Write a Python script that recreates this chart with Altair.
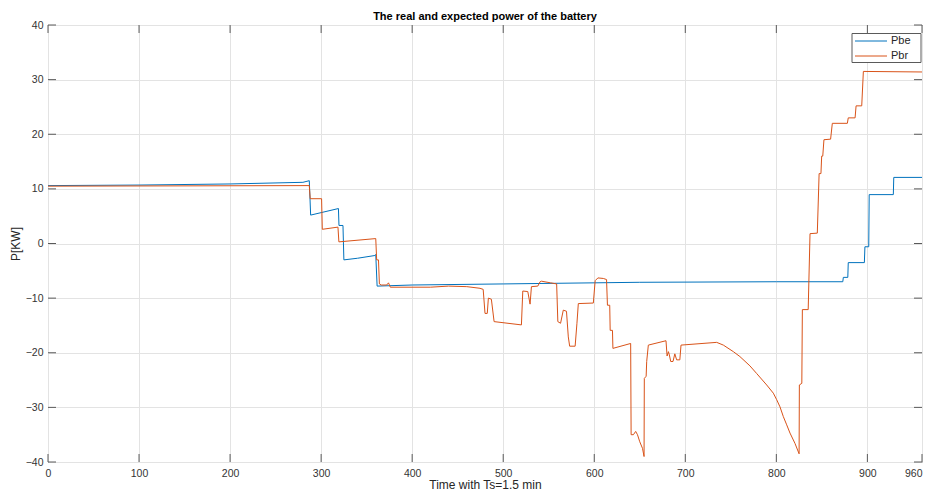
import altair as alt
import pandas as pd

# ---- data ----
pbe_t = [0, 100, 200, 280, 287, 288.5, 319, 319.6, 324, 325, 340, 359, 360, 361.5,
         400, 500, 650, 800, 873, 873.6, 878.5, 879, 896.7, 897.3, 901.5, 902,
         928.5, 929, 960]
pbe_p = [10.6, 10.7, 10.9, 11.2, 11.5, 5.2, 6.4, 3.3, 3.3, -3.0, -2.7, -2.2, -2.0, -7.8,
         -7.6, -7.4, -7.1, -7.0, -7.0, -6.2, -6.2, -3.5, -3.5, -0.6, -0.6, 8.95,
         8.95, 12.1, 12.1]

pbr_t = [0, 287, 288, 300.5, 301.3, 318.5, 319.5, 360, 361, 363, 364, 366, 372, 374, 376,
         420, 440, 460, 474.5, 478, 480, 482.5, 483.7, 487, 490, 520, 521.5, 527, 529.5,
         531, 538, 540.5, 542, 552, 558.7, 560, 563, 566, 569.5, 571.5, 573, 579, 581,
         582.5, 599, 601, 604, 610, 613.5, 614.5, 617, 617.5, 620, 620.5, 640, 640.5,
         643, 645.5, 647.5, 650, 653, 654.7, 655, 657, 657.6, 659.4, 678.8, 680, 681.5,
         682.5, 684, 686.5, 688.5, 690.5, 694, 695.3, 734.5, 741.8, 752.8, 760, 771,
         778.4, 789.4, 796.7, 800.4, 804, 807.7, 811.4, 815, 820.5, 825, 825.3, 828,
         828.6, 835, 837, 845, 847, 849, 849.8, 851, 852.3, 859.6, 861.5, 878, 879,
         886.5, 887.6, 893.8, 895.6, 960]
pbr_p = [10.5, 10.6, 8.2, 8.2, 2.6, 3.0, 0.3, 0.9, -3.0, -3.0, -7.4, -7.6, -7.6, -7.2, -8.0,
         -8.0, -7.8, -7.9, -8.2, -8.4, -12.8, -12.8, -10.0, -10.2, -14.3, -14.9, -8.7, -8.8,
         -11.1, -7.9, -7.8, -7.0, -6.9, -7.2, -7.4, -14.3, -14.6, -12.2, -12.4, -17.1,
         -18.8, -18.8, -14.6, -11.0, -10.9, -6.8, -6.3, -6.4, -6.6, -11.3, -11.3, -15.9,
         -15.9, -19.2, -18.3, -35.0, -35.0, -34.4, -35.0, -36.3, -37.5, -39.0, -24.7,
         -24.3, -21.6, -18.6, -17.8, -20.6, -19.8, -20.4, -21.6, -21.6, -20.2, -21.3,
         -21.3, -18.6, -18.1, -18.6, -19.8, -20.7, -22.4, -23.8, -25.9, -27.4, -28.6,
         -29.9, -31.7, -33.2, -34.7, -36.6, -38.5, -25.9, -25.6, -12.1, -12.1, 1.8, 1.9,
         12.8, 12.8, 16.0, 16.0, 19.0, 19.1, 22.0, 22.0, 23.0, 23.0, 25.2, 25.2, 31.5, 31.4]

series = ["Pbe", "Pbr"]
colors = ["#0072BD", "#D95319"]
x_ticks = [0, 100, 200, 300, 400, 500, 600, 700, 800, 900, 960]
y_ticks = [-40, -30, -20, -10, 0, 10, 20, 30, 40]

W, H = 874, 437
FRAME = "#5a5a5a"
FONT = "Liberation Sans"

xs = alt.Scale(domain=[0, 960], nice=False, zero=False)
ys = alt.Scale(domain=[-40, 40], nice=False, zero=False)
cs = alt.Scale(domain=series, range=colors)


def x_axis():
    return alt.Axis(values=x_ticks, title="Time with Ts=1.5 min", grid=True, ticks=False,
                    tickSize=0, domain=False, labelPadding=6, titleY=26,
                    titleBaseline="alphabetic", labelFlush=False,
                    labelAlign=alt.condition("datum.value >= 960", alt.value("right"),
                                             alt.value("center")))


def y_axis():
    return alt.Axis(values=y_ticks, title="P[KW]", grid=True, ticks=False, tickSize=0,
                    domain=False, labelPadding=5, titlePadding=3)


layers = []
for name, ts, ps in [("Pbe", pbe_t, pbe_p), ("Pbr", pbr_t, pbr_p)]:
    df = pd.DataFrame({"t": ts, "p": ps, "series": name, "i": range(len(ts))})
    layers.append(
        alt.Chart(df).mark_line(strokeWidth=1, clip=True).encode(
            x=alt.X("t:Q", scale=xs, axis=x_axis()),
            y=alt.Y("p:Q", scale=ys, axis=y_axis()),
            color=alt.Color("series:N", scale=cs, legend=None),
            order=alt.Order("i:Q"),
        )
    )

# inside tick marks (MATLAB style)
xt = pd.DataFrame({"t": x_ticks})
yt = pd.DataFrame({"p": y_ticks})
tick_len = 8
for y0, y1 in [(H, H - tick_len), (0, tick_len)]:
    layers.append(alt.Chart(xt).mark_rule(color=FRAME, strokeWidth=1).encode(
        x=alt.X("t:Q", scale=xs), y=alt.value(y0), y2=alt.value(y1)))
for x0, x1 in [(0, tick_len), (W, W - tick_len)]:
    layers.append(alt.Chart(yt).mark_rule(color=FRAME, strokeWidth=1).encode(
        y=alt.Y("p:Q", scale=ys), x=alt.value(x0), x2=alt.value(x1)))

# legend box
box = pd.DataFrame({"k": [0]})
layers.append(alt.Chart(box).mark_rect(fill="white", stroke=FRAME, strokeWidth=1).encode(
    x=alt.value(804), x2=alt.value(873), y=alt.value(8.5), y2=alt.value(37.5)))
for i, (name, col) in enumerate(zip(series, colors)):
    d = pd.DataFrame({"series": [name]})
    yy = 16 + 15 * i
    layers.append(alt.Chart(d).mark_rule(color=col, strokeWidth=1).encode(
        x=alt.value(807), x2=alt.value(839), y=alt.value(yy)))
    layers.append(alt.Chart(d).mark_text(align="left", baseline="middle", font=FONT,
                                         fontSize=11, color="#262626").encode(
        text="series:N", x=alt.value(843), y=alt.value(yy)))

chart = alt.layer(*layers).properties(
    width=W, height=H,
    title=alt.TitleParams("The real and expected power of the battery", font=FONT,
                          fontSize=11, fontWeight="bold", color="#000000", offset=-2),
    autosize=alt.AutoSizeParams(type="none"),
    padding={"left": 40, "top": 17, "right": 2, "bottom": 29},
).configure_view(stroke=FRAME, strokeWidth=1).configure_axis(
    gridColor="#e3e3e3", gridWidth=1, labelFont=FONT, titleFont=FONT,
    labelFontSize=10.5, titleFontSize=12, labelColor="#333333", titleColor="#262626",
    titleFontWeight="normal",
)

chart.save("out.html", embed_options={"renderer": "svg", "actions": False})
